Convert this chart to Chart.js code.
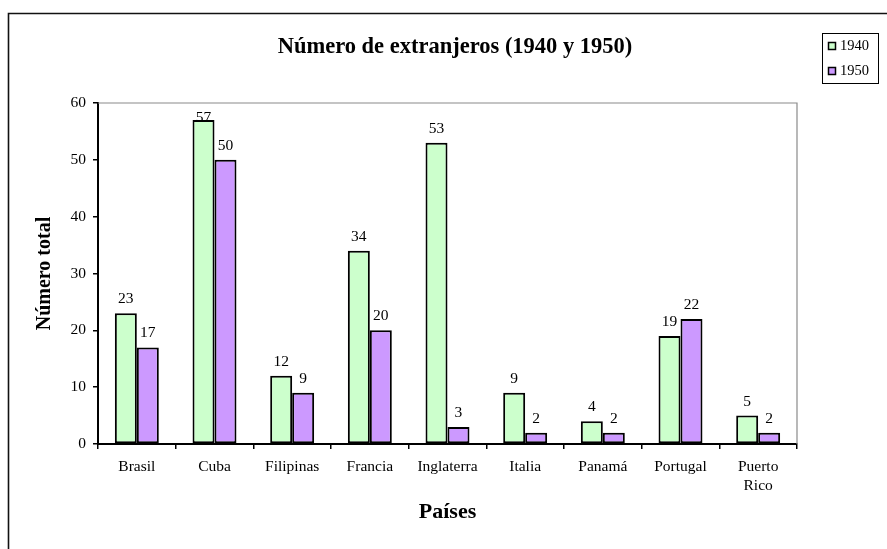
<!DOCTYPE html>
<html lang="es">
<head>
  <meta charset="UTF-8" />
  <title>Número de extranjeros (1940 y 1950)</title>
  <script src="https://cdn.jsdelivr.net/npm/chart.js"></script>
  <style>
    body { margin: 0; background: #fff; }
    #wrap { width: 887px; height: 549px; position: relative; }
  </style>
</head>
<body>
  <div id="wrap"><canvas id="chart"></canvas></div>

  <script>
    const paises = ['Brasil', 'Cuba', 'Filipinas', 'Francia', 'Inglaterra', 'Italia', 'Panamá', 'Portugal', ['Puerto', 'Rico']];
    const valores1940 = [23, 57, 12, 34, 53, 9, 4, 19, 5];
    const valores1950 = [17, 50, 9, 20, 3, 2, 2, 22, 2];
    const tituloGrafico = 'Número de extranjeros (1940 y 1950)';

    const serif = "'Liberation Serif', 'Times New Roman', serif";

    // frame, plot border, title
    const decor = {
      id: 'decor',
      beforeDraw(chart) {
        const c = chart.ctx;
        c.save();
        c.strokeStyle = '#111';
        c.lineWidth = 1.6;
        c.beginPath();
        c.moveTo(8.5, 549);
        c.lineTo(8.5, 13.5);
        c.lineTo(887, 13.5);
        c.stroke();
        c.fillStyle = '#000';
        c.font = 'bold 22.5px ' + serif;
        c.textAlign = 'center';
        c.textBaseline = 'middle';
        c.fillText(tituloGrafico, 455, 47);
        c.restore();
      },
      beforeDatasetsDraw(chart) {
        const a = chart.chartArea, c = chart.ctx;
        c.save();
        c.strokeStyle = '#8a8a8a';
        c.lineWidth = 1.2;
        c.beginPath();
        c.moveTo(a.left, a.top);
        c.lineTo(a.right, a.top);
        c.lineTo(a.right, a.bottom);
        c.stroke();
        c.restore();
      }
    };

    // value labels above bars
    const etiquetas = {
      id: 'etiquetas',
      afterDatasetsDraw(chart) {
        const c = chart.ctx, top = chart.chartArea.top;
        c.save();
        c.fillStyle = '#000';
        c.font = '15.5px ' + serif;
        c.textAlign = 'center';
        c.textBaseline = 'alphabetic';
        chart.data.datasets.forEach((ds, i) => {
          chart.getDatasetMeta(i).data.forEach((el, j) => {
            const y = Math.max(el.y - 10, top + 19);
            c.fillText(String(ds.data[j]), el.x, y);
          });
        });
        c.restore();
      }
    };

    // legend box at top right
    const leyenda = {
      id: 'leyenda',
      afterDraw(chart) {
        const c = chart.ctx;
        c.save();
        c.strokeStyle = '#000';
        c.lineWidth = 1;
        c.strokeRect(822.5, 33.5, 56, 50);
        c.font = '14.5px ' + serif;
        c.textBaseline = 'middle';
        c.textAlign = 'left';
        chart.data.datasets.forEach((ds, i) => {
          const y = 42.5 + i * 25;
          c.fillStyle = ds.backgroundColor;
          c.fillRect(828.5, y, 7, 7);
          c.lineWidth = 1.5;
          c.strokeRect(828.5, y, 7, 7);
          c.fillStyle = '#000';
          c.fillText(ds.label, 840, y + 4);
        });
        c.restore();
      }
    };

    new Chart(document.getElementById('chart'), {
      type: 'bar',
      data: {
        labels: paises,
        datasets: [
          {
            label: '1940',
            data: valores1940,
            backgroundColor: '#ccffcc',
            borderColor: '#000',
            borderWidth: 2,
            borderSkipped: false
          },
          {
            label: '1950',
            data: valores1950,
            backgroundColor: '#cc99ff',
            borderColor: '#000',
            borderWidth: 2,
            borderSkipped: false
          }
        ]
      },
      options: {
        responsive: true,
        maintainAspectRatio: false,
        animation: false,
        categoryPercentage: 0.566,
        barPercentage: 1,
        layout: { padding: { top: 103, right: 90, left: 0, bottom: 0 } },
        plugins: {
          legend: { display: false },
          title: { display: false },
          tooltip: { enabled: false }
        },
        scales: {
          x: {
            afterFit(s) { s.height = 105; },
            grid: { drawOnChartArea: false, drawTicks: true, tickLength: 5, color: '#000', lineWidth: 1.5 },
            border: { color: '#000', width: 2 },
            ticks: { color: '#000', padding: 8, font: { family: serif, size: 15.5, lineHeight: 1.23 } },
            title: {
              display: true,
              text: 'Países',
              color: '#000',
              padding: { bottom: 23 },
              font: { family: serif, size: 22, weight: 'bold' }
            }
          },
          y: {
            min: 0,
            max: 60,
            afterFit(s) { s.width = 98; },
            grid: { drawOnChartArea: false, drawTicks: true, tickLength: 5, color: '#000', lineWidth: 1.5 },
            border: { color: '#000', width: 2 },
            ticks: { stepSize: 10, color: '#000', padding: 7, font: { family: serif, size: 15.5 } },
            title: {
              display: true,
              text: 'Número total',
              color: '#000',
              padding: { top: 33 },
              font: { family: serif, size: 20, weight: 'bold' }
            }
          }
        }
      },
      plugins: [decor, etiquetas, leyenda]
    });
  </script>
</body>
</html>
